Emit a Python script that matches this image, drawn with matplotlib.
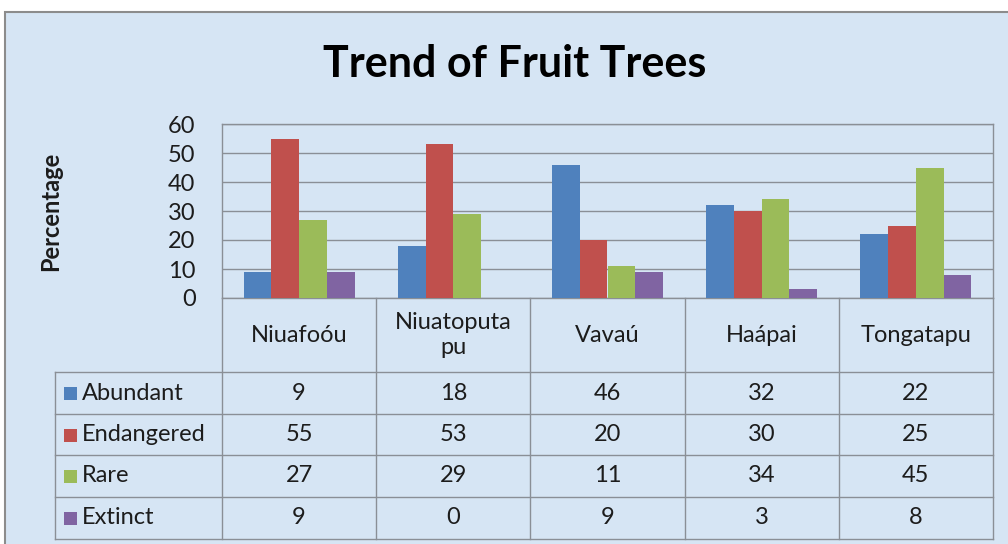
import numpy as np
import matplotlib.pyplot as plt
import matplotlib.transforms as mtransforms
from matplotlib.patches import Rectangle

# 데이터
regions = ['Niuafoóu', 'Niuatoputa\npu', 'Vavaú', 'Haápai', 'Tongatapu']
series_names = ['Abundant', 'Endangered', 'Rare', 'Extinct']
abundant = [9, 18, 46, 32, 22]
endangered = [55, 53, 20, 30, 25]
rare = [27, 29, 11, 34, 45]
extinct = [9, 0, 9, 3, 8]
yticks = [0, 10, 20, 30, 40, 50, 60]

series = [abundant, endangered, rare, extinct]
colors = ['#4f81bd', '#c0504d', '#9bbb59', '#8064a2']

plt.rcParams['font.family'] = ['Lato', 'DejaVu Sans']
W, H = 1008, 544
txt = '#1c1c1c'
grid_c = '#8a8f96'
fs = 17

fig = plt.figure(figsize=(W / 100, H / 100), dpi=100)
fig.patch.set_facecolor('white')

# 배경 (픽셀 좌표)
bg = fig.add_axes([0, 0, 1, 1])
bg.set_xlim(0, W)
bg.set_ylim(H, 0)
bg.axis('off')
bg.add_patch(Rectangle((5, 12), W + 20, H + 20, facecolor='#d6e5f4',
                       edgecolor='#8c8c8c', lw=1.5))

# 막대 그래프 영역
top_px, bot_px, left_px, right_px = 124, 298, 222, 993
ax = fig.add_axes([left_px / W, (H - bot_px) / H,
                   (right_px - left_px) / W, (bot_px - top_px) / H])
ax.patch.set_alpha(0)
x = np.arange(len(regions))
bw = 0.18
for i, (vals, c) in enumerate(zip(series, colors)):
    ax.bar(x + (i - 1.5) * bw, vals, width=bw, color=c, zorder=3)
ax.set_xlim(-0.5, len(regions) - 0.5)
ax.set_ylim(0, 60)
ax.set_yticks(yticks)
ax.set_yticklabels([str(t) for t in yticks], fontsize=fs, color=txt)
ax.set_xticks([])
ax.tick_params(axis='y', length=0, pad=19)
ax.grid(axis='y', color=grid_c, lw=1, zorder=0)
for s in ax.spines.values():
    s.set_color(grid_c)
    s.set_linewidth(1)
ax.set_ylabel('Percentage', fontsize=17, fontweight='bold', color=txt)
ax.yaxis.set_label_coords((62 - left_px) / (right_px - left_px), 0.5)

fig.text(515 / W, 1 - 64 / H, 'Trend of Fruit Trees', fontsize=31, fontweight='bold',
         ha='center', va='center', color='black')

# 데이터 표
tr = mtransforms.blended_transform_factory(ax.transData, bg.transData)
row_y = [372, 414, 455, 497, 539]
label_x0 = 55
for y in row_y:
    bg.plot([label_x0, right_px], [y, y], color=grid_c, lw=1)
bg.plot([label_x0, label_x0], [row_y[0], row_y[-1]], color=grid_c, lw=1)
for b in np.arange(len(regions) + 1) - 0.5:
    bg.plot([b, b], [bot_px, row_y[-1]], color=grid_c, lw=1, transform=tr)

for j, r in enumerate(regions):
    bg.text(j, (bot_px + row_y[0]) / 2, r, transform=tr, ha='center', va='center',
            fontsize=fs, color=txt, linespacing=1.25)

for i, (name, vals, c) in enumerate(zip(series_names, series, colors)):
    yc = (row_y[i] + row_y[i + 1]) / 2
    bg.add_patch(Rectangle((64, yc - 6), 13, 13, facecolor=c, edgecolor='none'))
    bg.text(82, yc, name, ha='left', va='center', fontsize=fs, color=txt)
    for j, v in enumerate(vals):
        bg.text(j, yc, str(v), transform=tr, ha='center', va='center',
                fontsize=fs, color=txt)

fig.savefig('out.png', dpi=100)
